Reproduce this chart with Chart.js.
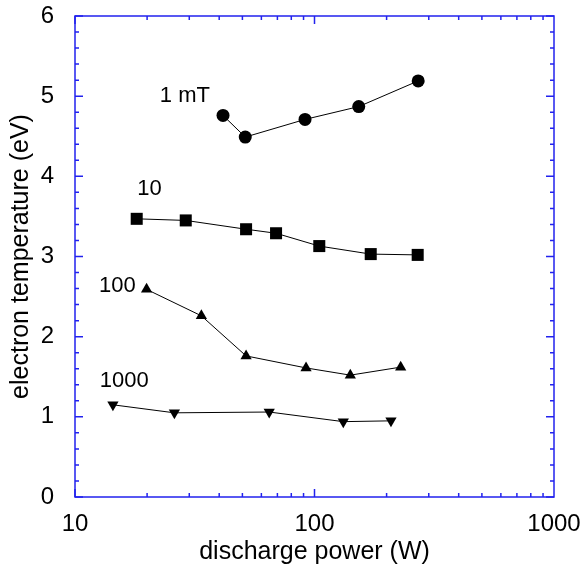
<!DOCTYPE html>
<html>
<head>
<meta charset="utf-8">
<script src="https://cdn.jsdelivr.net/npm/chart.js@4.4.0/dist/chart.umd.min.js"></script>
<style>
  html, body { margin: 0; padding: 0; background: #fff; }
  #wrap { width: 581px; height: 571px; position: relative; }
</style>
</head>
<body>
<div id="wrap"><canvas id="myChart"></canvas></div>
<script>
'use strict';

// discharge power (W) and electron temperature (eV), one pair of arrays per pressure
var power1mT = [41.5, 51.4, 91.3, 153, 271];
var temp1mT = [4.76, 4.49, 4.71, 4.87, 5.19];

var power10 = [18.1, 29.0, 51.8, 69.1, 104.7, 171.7, 269.7];
var temp10 = [3.47, 3.45, 3.34, 3.29, 3.13, 3.03, 3.02];

var power100 = [19.9, 33.7, 51.8, 92.2, 141.1, 229];
var temp100 = [2.59, 2.26, 1.76, 1.61, 1.52, 1.62];

var power1000 = [14.4, 26.0, 64.7, 131.9, 208.6];
var temp1000 = [1.15, 1.05, 1.06, 0.94, 0.95];

// series names written next to each curve, placed in data units
var seriesNames = ['1 mT', '10', '100', '1000'];
var nameX = [22.6, 18.2, 12.6, 12.7];
var nameY = [5.0, 3.84, 2.63, 1.45];

var xTickLabels = [10, 100, 1000];
var yMin = 0;
var yMax = 6;

const FONT = "'Liberation Sans', Arial, Helvetica, sans-serif";
const FRAME_COLOR = '#2222ee';

function toPoints(xs, ys) {
  return xs.map(function (x, i) { return { x: x, y: ys[i] }; });
}

function makeSet(label, xs, ys, style, radius, rotation) {
  return {
    label: label,
    data: toPoints(xs, ys),
    showLine: true,
    borderColor: '#000',
    borderWidth: 1,
    backgroundColor: '#000',
    pointStyle: style,
    pointRadius: radius,
    pointHoverRadius: radius,
    pointRotation: rotation || 0,
    pointBorderWidth: 0
  };
}

// keep label overhang from shrinking the plot box
function noPad(scale) {
  scale.paddingTop = 0;
  scale.paddingBottom = 0;
  scale.paddingLeft = 0;
  scale.paddingRight = 0;
}

// blue box with inward ticks on all four sides, plus curve names
var framePlugin = {
  id: 'frame',
  afterDraw: function (chart) {
    var ctx = chart.ctx;
    var a = chart.chartArea;
    var xs = chart.scales.x;
    var ys = chart.scales.y;
    ctx.save();
    ctx.strokeStyle = FRAME_COLOR;
    ctx.lineWidth = 1.5;
    ctx.strokeRect(a.left, a.top, a.right - a.left, a.bottom - a.top);

    ctx.beginPath();
    // x ticks: decades long, 2..9 short
    for (var d = 10; d < 1000; d *= 10) {
      for (var k = 1; k <= 9; k++) {
        var px = xs.getPixelForValue(d * k);
        var len = k === 1 ? 8 : 4;
        ctx.moveTo(px, a.bottom); ctx.lineTo(px, a.bottom - len);
        ctx.moveTo(px, a.top); ctx.lineTo(px, a.top + len);
      }
    }
    // y ticks: every 1 long, every 0.2 short
    for (var i = 0; i <= (yMax - yMin) * 5; i++) {
      var v = yMin + i / 5;
      var py = ys.getPixelForValue(v);
      var l = i % 5 === 0 ? 8 : 4;
      ctx.moveTo(a.left, py); ctx.lineTo(a.left + l, py);
      ctx.moveTo(a.right, py); ctx.lineTo(a.right - l, py);
    }
    ctx.stroke();

    ctx.fillStyle = '#000';
    ctx.font = '22px ' + FONT;
    ctx.textAlign = 'left';
    ctx.textBaseline = 'middle';
    seriesNames.forEach(function (n, j) {
      ctx.fillText(n, xs.getPixelForValue(nameX[j]), ys.getPixelForValue(nameY[j]));
    });
    ctx.restore();
  }
};

var ctx = document.getElementById('myChart').getContext('2d');
var chart = new Chart(ctx, {
  type: 'scatter',
  data: {
    datasets: [
      makeSet('1 mT', power1mT, temp1mT, 'circle', 6.5),
      makeSet('10', power10, temp10, 'rect', 8.5),
      makeSet('100', power100, temp100, 'triangle', 6.5),
      makeSet('1000', power1000, temp1000, 'triangle', 6.5, 180)
    ]
  },
  options: {
    responsive: true,
    maintainAspectRatio: false,
    animation: false,
    layout: { padding: { left: 0, top: 16, right: 27, bottom: 0 } },
    plugins: {
      legend: { display: false },
      tooltip: { enabled: false }
    },
    scales: {
      x: {
        type: 'logarithmic',
        min: 10,
        max: 1000,
        grid: { display: false },
        border: { display: false },
        afterFit: function (scale) { scale.height = 74; noPad(scale); },
        ticks: {
          autoSkip: false,
          maxRotation: 0,
          padding: 5,
          color: '#000',
          font: { family: FONT, size: 24 },
          callback: function (v) {
            for (var i = 0; i < xTickLabels.length; i++) {
              if (Math.abs(v - xTickLabels[i]) < 1e-6) return String(xTickLabels[i]);
            }
            return '';
          }
        },
        title: {
          display: true,
          text: 'discharge power (W)',
          color: '#000',
          font: { family: FONT, size: 25 },
          padding: { top: 0, bottom: 4 }
        }
      },
      y: {
        min: yMin,
        max: yMax,
        grid: { display: false },
        border: { display: false },
        afterFit: function (scale) { scale.width = 75; noPad(scale); },
        ticks: {
          stepSize: 1,
          padding: 13,
          color: '#000',
          font: { family: FONT, size: 24 }
        },
        title: {
          display: true,
          text: 'electron temperature (eV)',
          color: '#000',
          font: { family: FONT, size: 25 },
          padding: { top: 6, bottom: 0 }
        }
      }
    }
  },
  plugins: [framePlugin]
});
</script>
</body>
</html>
